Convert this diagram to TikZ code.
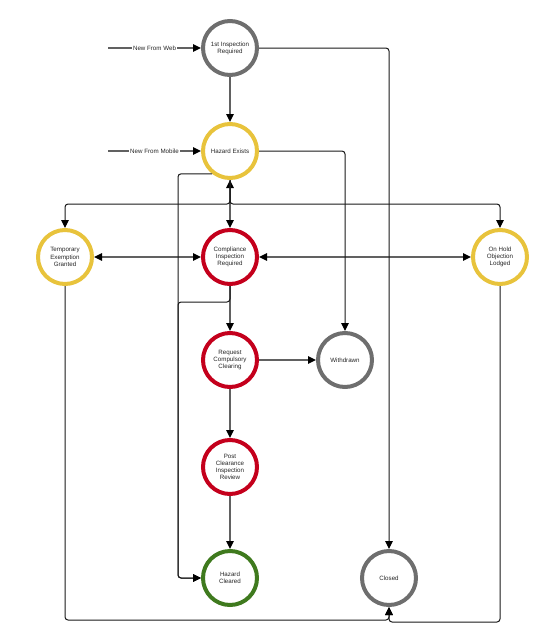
\documentclass[tikz,border=0pt]{standalone}
\usepackage{fontspec}
\setmainfont{Liberation Sans}
\usepackage{tikz}
\usetikzlibrary{positioning,arrows.meta,calc}
\definecolor{StateGrey}{HTML}{6E6E6E}
\definecolor{StateYellow}{HTML}{E8C33C}
\definecolor{StateRed}{HTML}{C4001C}
\definecolor{StateGreen}{HTML}{3F7A1E}

\begin{document}
\begin{tikzpicture}[
  x=1pt,y=-1pt,
  every node/.style={font=\fontsize{6.2}{7.2}\selectfont,text=black!85,align=center},
  state/.style={circle,draw,line width=4pt,minimum size=54pt,inner sep=0pt,fill=white},
  flow/.style={draw=black!62,line width=1.5pt,-{Triangle[length=8pt,width=7.5pt,color=black]}},
  both/.style={flow,{Triangle[length=8pt,width=7.5pt,color=black]}-{Triangle[length=8pt,width=7.5pt,color=black]}},
  route/.style={draw=black!90,line width=1pt,rounded corners=3pt,-{Triangle[length=8pt,width=7.5pt,color=black]}}
]
\useasboundingbox (0,0) rectangle (544,641);

% states
\node[state,draw=StateGrey]   (insp) at (230,48)  {1st Inspection\\Required};
\node[state,draw=StateYellow] (haz)  at (230,151) {Hazard Exists};
\node[state,draw=StateYellow] (temp) at (65,257)  {Temporary\\Exemption\\Granted};
\node[state,draw=StateRed]    (comp) at (230,257) {Compliance\\Inspection\\Required};
\node[state,draw=StateYellow] (hold) at (500,257) {On Hold\\Objection\\Lodged};
\node[state,draw=StateRed]    (rcc)  at (230,360) {Request\\Compulsory\\Clearing};
\node[state,draw=StateGrey]   (wd)   at (345,360) {Withdrawn};
\node[state,draw=StateRed]    (pcir) at (230,467) {Post\\Clearance\\Inspection\\Review};
\node[state,draw=StateGreen]  (hcl)  at (230,578) {Hazard\\Cleared};
\node[state,draw=StateGrey]   (cl)   at (389,578) {Closed};

% entry points
\coordinate (websrc) at (108,48);
\coordinate (mobsrc) at (108,151);
\draw[flow] (websrc) -- node[fill=white,inner sep=1pt] {New From Web} (insp.west);
\draw[flow] (mobsrc) -- node[fill=white,inner sep=1pt] {New From Mobile} (haz.west);

% straight transitions
\draw[flow] (insp.south) -- (haz.north);
\draw[both] (haz.south) -- (comp.north);
\draw[both] (temp.east) -- (comp.west);
\draw[both] (comp.east) -- (hold.west);
\draw[flow] (comp.south) -- (rcc.north);
\draw[flow] (rcc.east) -- (wd.west);
\draw[flow] (rcc.south) -- (pcir.north);
\draw[flow] (pcir.south) -- (hcl.north);

% routed transitions
\draw[route] (insp.east) -| (cl.north);
\draw[route] (haz.east) -| (wd.north);
\draw[route] (haz.south) -- ++(0,24) -| (temp.north);
\draw[route] (haz.south) -- ++(0,24) -| (hold.north);
\draw[route] (haz.232) -| ([xshift=-23pt]hcl.west) -- (hcl.west);
\draw[route] (comp.south) -- ++(0,16) -| ([xshift=-23pt]hcl.west) -- (hcl.west);
\draw[route] (temp.south) |- ([yshift=-13pt]cl.south) -- (cl.south);
\draw[route] (hold.south) |- ([yshift=-15pt]cl.south) -- (cl.south);
\end{tikzpicture}
\end{document}
